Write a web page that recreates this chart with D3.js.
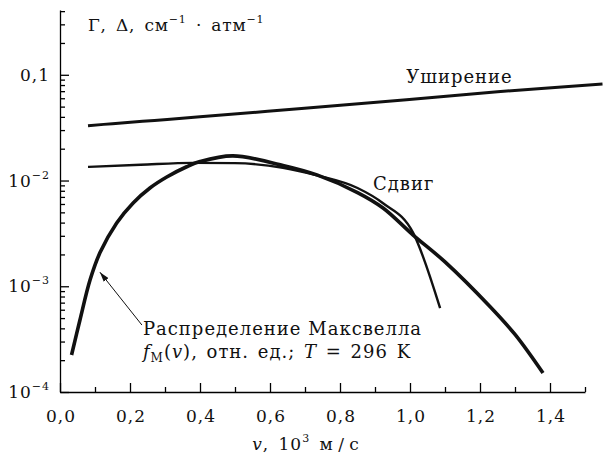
<!DOCTYPE html>
<html>
<head>
<meta charset="utf-8">
<script src="https://cdn.jsdelivr.net/npm/d3@7"></script>
<style>
  body { margin: 0; background: #fff; }
  text { font-family: "DejaVu Serif", serif; fill: #111; }
</style>
</head>
<body>
<svg id="chart" width="604" height="457"></svg>
<script>
// speed, 10^3 m/s
const broadV = [0.08, 0.15, 0.27, 0.4, 0.69, 0.99, 1.25, 1.55];
const broadG = [0.033, 0.0345, 0.037, 0.040, 0.048, 0.058, 0.069, 0.082];

const shiftV = [0.08, 0.23, 0.38, 0.5, 0.637, 0.734, 0.85, 0.923, 1.009, 1.086];
const shiftD = [0.01346, 0.0141, 0.0147, 0.0146, 0.0132, 0.0112, 0.0085, 0.0061, 0.0032, 0.00062];

const maxV = [0.033, 0.057, 0.086, 0.114, 0.162, 0.209, 0.257, 0.305, 0.362, 0.4, 0.494, 0.637, 0.734, 0.85, 0.923, 1.009, 1.1, 1.229, 1.3, 1.38];
const maxF = [0.000224, 0.00048, 0.00115, 0.00207, 0.00397, 0.00614, 0.0085, 0.0108, 0.0135, 0.0151, 0.0171, 0.0139, 0.0113, 0.0077, 0.0055, 0.00305, 0.0017, 0.00064, 0.00035, 0.000151];

const xMajor = [0, 0.2, 0.4, 0.6, 0.8, 1.0, 1.2, 1.4];
const xMinor = [0.1, 0.3, 0.5, 0.7, 0.9, 1.1, 1.3, 1.5];
const yMajor = [1e-4, 1e-3, 1e-2, 1e-1];
const yLabelBase = ["10", "10", "10", "0,1"];
const yLabelExp = ["−4", "−3", "−2", ""];

const svg = d3.select("#chart");
const mLeft = 60, mRight = 585, mTop = 10, mBottom = 392;

const x = d3.scaleLinear().domain([0, 1.5]).range([mLeft, mRight]);
const y = d3.scaleLog().domain([1e-4, 0.41]).range([mBottom, mTop]);

// x axis, ticks point inward
const xAxis = svg.append("g")
  .attr("transform", `translate(0,${mBottom})`)
  .call(d3.axisBottom(x).tickValues(xMajor).tickSize(-9).tickSizeOuter(0).tickPadding(18)
    .tickFormat(d => d3.format(".1f")(d).replace(".", ",")));
xAxis.attr("font-family", null).attr("font-size", 17);
xAxis.selectAll("text").attr("letter-spacing", 1).attr("dx", 0.5);
xAxis.selectAll("path, line").attr("stroke-width", 1.3);

svg.append("g")
  .attr("transform", `translate(0,${mBottom})`)
  .call(d3.axisBottom(x).tickValues(xMinor).tickSize(-5).tickSizeOuter(0).tickFormat(""))
  .call(g => g.select(".domain").remove())
  .selectAll("line").attr("stroke-width", 1.3);

// y axis
const yMinor = y.ticks().filter(d => !yMajor.some(m => Math.abs(m - d) / m < 1e-6));
svg.append("g")
  .attr("transform", `translate(${mLeft},0)`)
  .call(d3.axisLeft(y).tickValues(yMajor).tickSize(-9).tickSizeOuter(0).tickFormat(""))
  .selectAll("path, line").attr("stroke-width", 1.3);
svg.append("g")
  .attr("transform", `translate(${mLeft},0)`)
  .call(d3.axisLeft(y).tickValues(yMinor).tickSize(-5).tickSizeOuter(0).tickFormat(""))
  .call(g => g.select(".domain").remove())
  .selectAll("line").attr("stroke-width", 1.3);

const yLab = svg.append("g").selectAll("text")
  .data(yMajor)
  .join("text")
  .attr("x", 50)
  .attr("y", d => y(d) + 6)
  .attr("text-anchor", "end")
  .attr("letter-spacing", 1)
  .attr("font-size", 17);
yLab.append("tspan").text((d, i) => yLabelBase[i]);
yLab.append("tspan")
  .attr("font-size", 11)
  .attr("dy", -8)
  .text((d, i) => yLabelExp[i]);

// curves
const line = d3.line()
  .x(d => x(d[0]))
  .y(d => y(d[1]))
  .curve(d3.curveMonotoneX);
const smooth = d3.line()
  .x(d => x(d[0]))
  .y(d => y(d[1]))
  .curve(d3.curveCatmullRom.alpha(0.5));

svg.append("path")
  .datum(broadV.map((v, i) => [v, broadG[i]]))
  .attr("fill", "none").attr("stroke", "#111").attr("stroke-width", 3)
  .attr("d", smooth);

svg.append("path")
  .datum(shiftV.map((v, i) => [v, shiftD[i]]))
  .attr("fill", "none").attr("stroke", "#111").attr("stroke-width", 2.4)
  .attr("d", line);

svg.append("path")
  .datum(maxV.map((v, i) => [v, maxF[i]]))
  .attr("fill", "none").attr("stroke", "#111").attr("stroke-width", 3.6)
  .attr("d", smooth);

// arrow
svg.append("defs").append("marker")
  .attr("id", "arr")
  .attr("markerUnits", "userSpaceOnUse")
  .attr("viewBox", "0 0 10 6")
  .attr("markerWidth", 10).attr("markerHeight", 6)
  .attr("refX", 10).attr("refY", 3)
  .attr("orient", "auto")
  .append("path").attr("d", "M0,0L10,3L0,6Z").attr("fill", "#111");

const arrowFrom = [0.234, 0.00043], arrowTo = [0.114, 0.00136];
svg.append("line")
  .attr("x1", x(arrowFrom[0])).attr("y1", y(arrowFrom[1]))
  .attr("x2", x(arrowTo[0])).attr("y2", y(arrowTo[1]))
  .attr("stroke", "#111").attr("stroke-width", 1)
  .attr("marker-end", "url(#arr)");

// labels
svg.append("text")
  .attr("x", x(0.989)).attr("y", y(0.0837))
  .attr("font-size", 18).attr("letter-spacing", 1)
  .text("Уширение");

svg.append("text")
  .attr("x", x(0.894)).attr("y", y(0.00815))
  .attr("font-size", 18).attr("letter-spacing", 1)
  .text("Сдвиг");

const mx = x(0.237), my = y(0.000346);
svg.append("text")
  .attr("x", mx).attr("y", my)
  .attr("font-size", 18).attr("letter-spacing", 1)
  .text("Распределение Максвелла");

const l2 = svg.append("text")
  .attr("x", mx).attr("y", my + 23)
  .attr("font-size", 18).attr("letter-spacing", 1).attr("word-spacing", 2);
l2.append("tspan").attr("font-style", "italic").text("f");
l2.append("tspan").attr("font-size", 12).attr("dy", 4).text("М");
l2.append("tspan").attr("dy", -4).text("(");
l2.append("tspan").attr("font-style", "italic").text("v");
l2.append("tspan").text("), отн. ед.; ");
l2.append("tspan").attr("font-style", "italic").text("T");
l2.append("tspan").text(" = 296 K");

// y title
const yt = svg.append("text")
  .attr("x", 88).attr("y", 31)
  .attr("font-size", 17).attr("letter-spacing", 0.8).attr("word-spacing", 3);
yt.append("tspan").text("Γ, Δ, см");
yt.append("tspan").attr("font-size", 11).attr("dy", -8).text("−1");
yt.append("tspan").attr("dy", 8).text(" · атм");
yt.append("tspan").attr("font-size", 11).attr("dy", -8).text("−1");

// x title
const xt = svg.append("text")
  .attr("x", 306).attr("y", 450)
  .attr("text-anchor", "middle")
  .attr("font-size", 17).attr("letter-spacing", 1).attr("word-spacing", 3);
xt.append("tspan").attr("font-style", "italic").text("v");
xt.append("tspan").text(", 10");
xt.append("tspan").attr("font-size", 11).attr("dy", -8).text("3");
xt.append("tspan").attr("dy", 8).text(" м\u2009/\u2009с");
</script>
</body>
</html>
